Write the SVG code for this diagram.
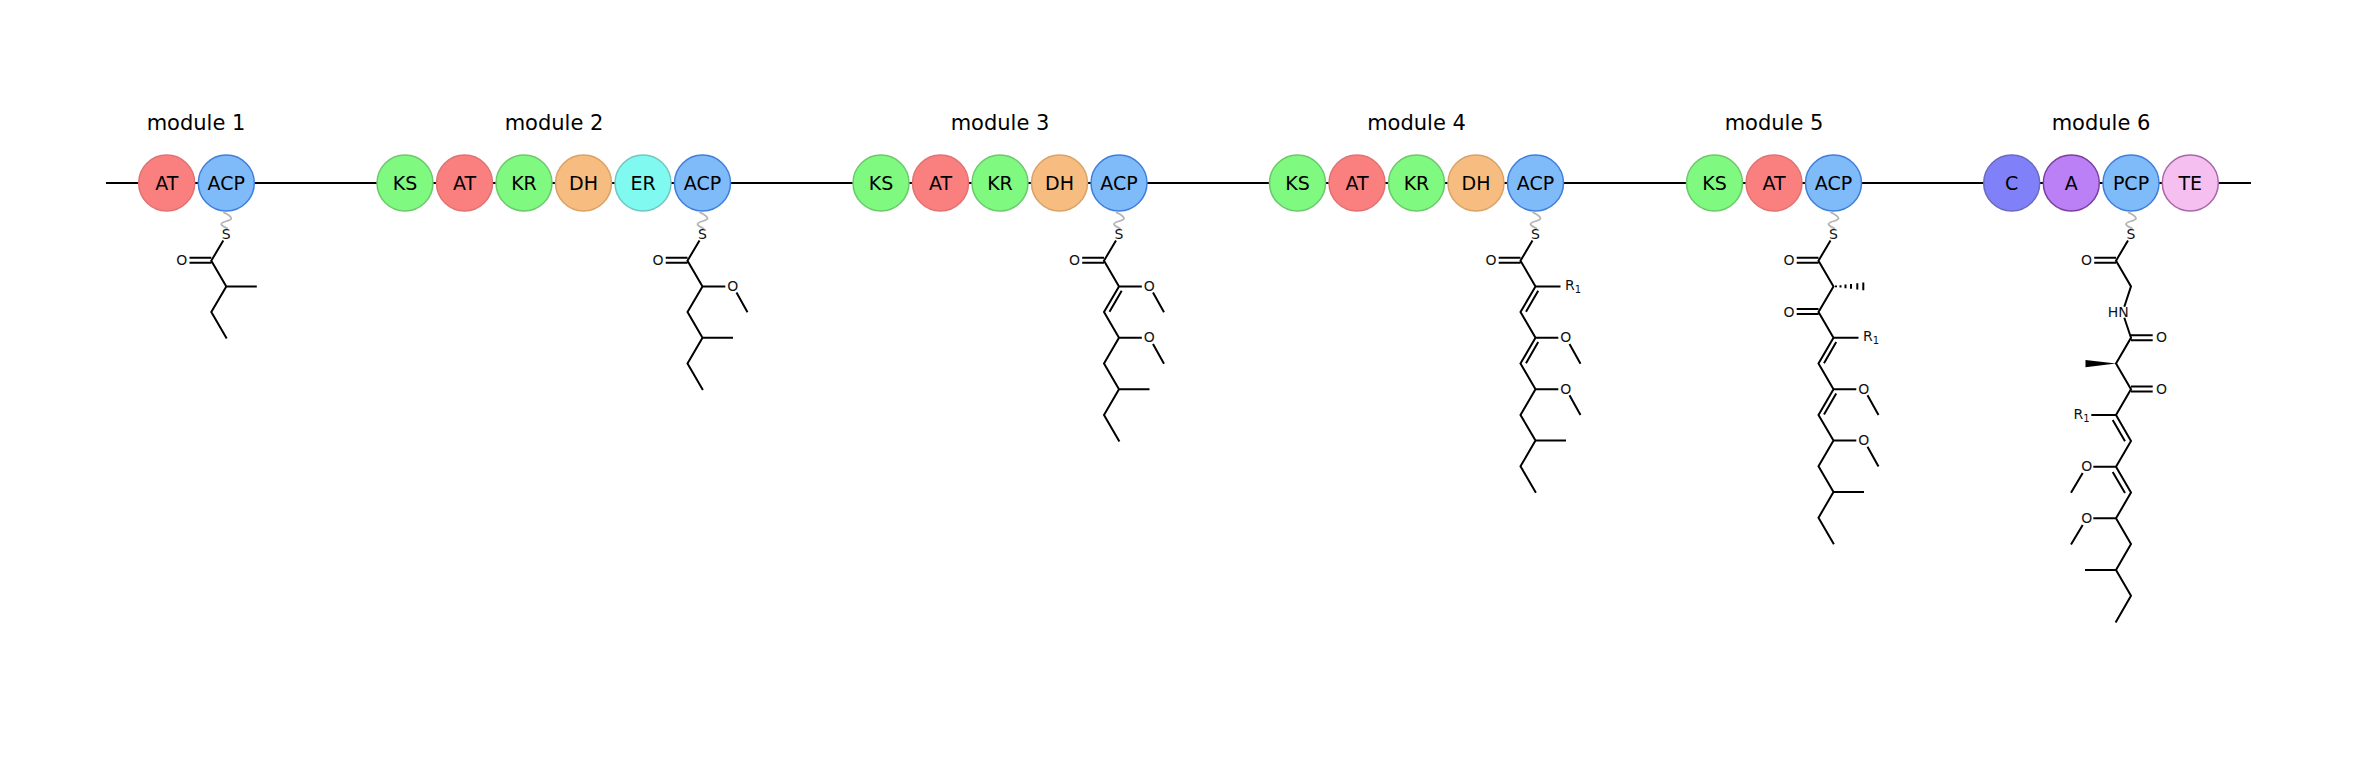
<svg xmlns="http://www.w3.org/2000/svg" width="2357" height="777" viewBox="0 0 2357 777">
<style>
text{font-family:"DejaVu Sans",sans-serif;fill:#000}
.title{font-size:21px;text-anchor:middle}
.d{font-size:19px;text-anchor:middle}
.a{font-size:14px;text-anchor:middle;fill:#111}
.s{font-size:10px}
circle{stroke-width:1.5}
.b{fill:none;stroke:#000;stroke-width:2;stroke-linejoin:miter;stroke-linecap:butt}
.z{fill:none;stroke:#b4b4b4;stroke-width:1.8}
.AT{fill:#fa8080;stroke:#e27272}
.ACP{fill:#80bbf9;stroke:#3f7fdc}
.KS{fill:#80f980;stroke:#6cc96c}
.KR{fill:#80f980;stroke:#6cc96c}
.DH{fill:#f7bd80;stroke:#d9a268}
.ER{fill:#80f9f0;stroke:#70c8c0}
.C{fill:#8080f9;stroke:#6a6ac0}
.A{fill:#bb80f5;stroke:#7d3f9f}
.TE{fill:#f5c0f0;stroke:#a868a8}
</style>
<defs>
<path id="sq" class="z" d="M-3 212C0 214 5 216 5 218.500C5 221 -5 221.500 -5 224C-5 226 -1 227 1.500 229"/>
<g id="hash"><path d="M7 -1.200V1.200M12 -1.800V1.800M17.500 -2.400V2.400M23.800 -3.200V3.200M29.800 -3.900V3.900M2.500 -0.800V0.800" fill="none" stroke="#000" stroke-width="2"/></g>
</defs>
<g id="connectors">
<path id="backbone" class="b" d="M106 183H2251"/>
</g>
<g id="module-1"><text class="title" x="196" y="130">module 1</text>
<g id="m1-AT"><circle class="AT" cx="166.700" cy="183" r="28"/><text class="d" x="166.700" y="189.700">AT</text></g>
<g id="m1-ACP"><circle class="ACP" cx="226.300" cy="183" r="28"/><text class="d" x="226.300" y="189.700">ACP</text></g>
<g id="m1-chain" transform="translate(226.300 0)"><use href="#sq"/><text class="a" x="0" y="238.800">S</text><text class="a" x="-44.500" y="265.100">O</text>
<path class="b" d="M-3 240.500L-15 260.700L0 286.400L-15 312.100L0.400 338.600M0 286.400H30.500M-15 257.700H-36.800M-15 262.700H-36.800"/></g></g>
<g id="module-2"><text class="title" x="554" y="130">module 2</text>
<g id="m2-KS"><circle class="KS" cx="405" cy="183" r="28"/><text class="d" x="405" y="189.700">KS</text></g>
<g id="m2-AT"><circle class="AT" cx="464.500" cy="183" r="28"/><text class="d" x="464.500" y="189.700">AT</text></g>
<g id="m2-KR"><circle class="KR" cx="524" cy="183" r="28"/><text class="d" x="524" y="189.700">KR</text></g>
<g id="m2-DH"><circle class="DH" cx="583.500" cy="183" r="28"/><text class="d" x="583.500" y="189.700">DH</text></g>
<g id="m2-ER"><circle class="ER" cx="643" cy="183" r="28"/><text class="d" x="643" y="189.700">ER</text></g>
<g id="m2-ACP"><circle class="ACP" cx="702.500" cy="183" r="28"/><text class="d" x="702.500" y="189.700">ACP</text></g>
<g id="m2-chain" transform="translate(702.500 0)"><use href="#sq"/><text class="a" x="0" y="238.800">S</text><text class="a" x="-44.500" y="265.100">O</text><text class="a" x="30.300" y="291">O</text>
<path class="b" d="M-3 240.500L-15 260.700L0 286.400L-15 312.100L0 337.800L-15 363.500L0.400 390M0 286.400H22.800M34 292.500L45 312.300M0 337.800H30.500M-15 257.700H-36.800M-15 262.700H-36.800"/></g></g>
<g id="module-3"><text class="title" x="1000" y="130">module 3</text>
<g id="m3-KS"><circle class="KS" cx="881" cy="183" r="28"/><text class="d" x="881" y="189.700">KS</text></g>
<g id="m3-AT"><circle class="AT" cx="940.500" cy="183" r="28"/><text class="d" x="940.500" y="189.700">AT</text></g>
<g id="m3-KR"><circle class="KR" cx="1000" cy="183" r="28"/><text class="d" x="1000" y="189.700">KR</text></g>
<g id="m3-DH"><circle class="DH" cx="1059.500" cy="183" r="28"/><text class="d" x="1059.500" y="189.700">DH</text></g>
<g id="m3-ACP"><circle class="ACP" cx="1119" cy="183" r="28"/><text class="d" x="1119" y="189.700">ACP</text></g>
<g id="m3-chain" transform="translate(1119 0)"><use href="#sq"/><text class="a" x="0" y="238.800">S</text><text class="a" x="-44.500" y="265.100">O</text><text class="a" x="30.300" y="291">O</text><text class="a" x="30.300" y="342.400">O</text>
<path class="b" d="M-3 240.500L-15 260.700L0 286.400L-15 312.100L0 337.800L-15 363.500L0 389.200L-15 414.900L0.400 441.400M2.700 290.700L-9.500 311.800M0 286.400H22.800M34 292.500L45 312.300M0 337.800H22.800M34 343.900L45 363.700M0 389.200H30.500M-15 257.700H-36.800M-15 262.700H-36.800"/></g></g>
<g id="module-4"><text class="title" x="1416.500" y="130">module 4</text>
<g id="m4-KS"><circle class="KS" cx="1297.500" cy="183" r="28"/><text class="d" x="1297.500" y="189.700">KS</text></g>
<g id="m4-AT"><circle class="AT" cx="1357" cy="183" r="28"/><text class="d" x="1357" y="189.700">AT</text></g>
<g id="m4-KR"><circle class="KR" cx="1416.500" cy="183" r="28"/><text class="d" x="1416.500" y="189.700">KR</text></g>
<g id="m4-DH"><circle class="DH" cx="1476" cy="183" r="28"/><text class="d" x="1476" y="189.700">DH</text></g>
<g id="m4-ACP"><circle class="ACP" cx="1535.500" cy="183" r="28"/><text class="d" x="1535.500" y="189.700">ACP</text></g>
<g id="m4-chain" transform="translate(1535.500 0)"><use href="#sq"/><text class="a" x="0" y="238.800">S</text><text class="a" x="-44.500" y="265.100">O</text><text class="a" x="29.500" y="290" style="text-anchor:start">R<tspan class="s" dy="3">1</tspan></text><text class="a" x="30.300" y="342.400">O</text><text class="a" x="30.300" y="393.800">O</text>
<path class="b" d="M-3 240.500L-15 260.700L0 286.400L-15 312.100L0 337.800L-15 363.500L0 389.200L-15 414.900L0 440.600L-15 466.300L0.400 492.800M2.700 290.700L-9.500 311.800M2.700 342.100L-9.500 363.200M0 286.400H25M0 337.800H22.800M34 343.900L45 363.700M0 389.200H22.800M34 395.300L45 415.100M0 440.600H30.500M-15 257.700H-36.800M-15 262.700H-36.800"/></g></g>
<g id="module-5"><text class="title" x="1774" y="130">module 5</text>
<g id="m5-KS"><circle class="KS" cx="1714.500" cy="183" r="28"/><text class="d" x="1714.500" y="189.700">KS</text></g>
<g id="m5-AT"><circle class="AT" cx="1774" cy="183" r="28"/><text class="d" x="1774" y="189.700">AT</text></g>
<g id="m5-ACP"><circle class="ACP" cx="1833.500" cy="183" r="28"/><text class="d" x="1833.500" y="189.700">ACP</text></g>
<g id="m5-chain" transform="translate(1833.500 0)"><use href="#sq"/><text class="a" x="0" y="238.800">S</text><text class="a" x="-44.500" y="265.100">O</text><text class="a" x="-44.500" y="316.500">O</text><text class="a" x="29.500" y="341.300" style="text-anchor:start">R<tspan class="s" dy="3">1</tspan></text><text class="a" x="30.300" y="393.800">O</text><text class="a" x="30.300" y="445.200">O</text>
<use href="#hash" transform="translate(0 286.400)"/>
<path class="b" d="M-3 240.500L-15 260.700L0 286.400L-15 312.100L0 337.800L-15 363.500L0 389.200L-15 414.900L0 440.600L-15 466.300L0 492L-15 517.700L0.400 544.200M2.700 342.100L-9.500 363.200M2.700 393.500L-9.500 414.600M0 337.800H25M0 389.200H22.800M34 395.300L45 415.100M0 440.600H22.800M34 446.700L45 466.500M0 492H30.500M-15 257.700H-36.800M-15 262.700H-36.800M-15 309.100H-36.800M-15 314.100H-36.800"/></g></g>
<g id="module-6"><text class="title" x="2101" y="130">module 6</text>
<g id="m6-C"><circle class="C" cx="2011.700" cy="183" r="28"/><text class="d" x="2011.700" y="189.700">C</text></g>
<g id="m6-A"><circle class="A" cx="2071.300" cy="183" r="28"/><text class="d" x="2071.300" y="189.700">A</text></g>
<g id="m6-PCP"><circle class="ACP" cx="2131" cy="183" r="28"/><text class="d" x="2131" y="189.700">PCP</text></g>
<g id="m6-TE"><circle class="TE" cx="2190.300" cy="183" r="28"/><text class="d" x="2190.300" y="189.700">TE</text></g>
<g id="m6-chain" transform="translate(2131 0)"><use href="#sq"/><text class="a" x="0" y="238.800">S</text><text class="a" x="-44.500" y="265.100">O</text><text class="a" x="-12.700" y="316.500">HN</text><text class="a" x="30.500" y="342.400">O</text><text class="a" x="30.500" y="393.800">O</text><text class="a" x="-57.500" y="418.800" style="text-anchor:start">R<tspan class="s" dy="3">1</tspan></text><text class="a" x="-44.300" y="470.800">O</text><text class="a" x="-44.300" y="522.600">O</text>
<path d="M-15 363.500L-45.500 359.900V367.300Z" fill="#000"/>
<path class="b" d="M-3 240.500L-15 260.700L0 286.400L-6.700 306.700M-6.700 317.700L0 337.800L-15 363.500L0 389.200L-15 415L0 440.900L-15 466.700L0 492.600L-15 518.300L0 544L-15 569.900L0 595.700L-15.400 622.600M-18.300 420L-6 441.200M-18.300 472L-6 493M0 335.200H21.700M0 340.200H21.700M0 386.600H21.700M0 391.600H21.700M-15 415H-39.700M-15 466.700H-37.700M-48.300 473L-60 492.800M-15 518.300H-37.700M-48.300 525L-60 544.400M-15 569.900H-46M-15 257.700H-36.800M-15 262.700H-36.800"/></g></g>
</svg>
